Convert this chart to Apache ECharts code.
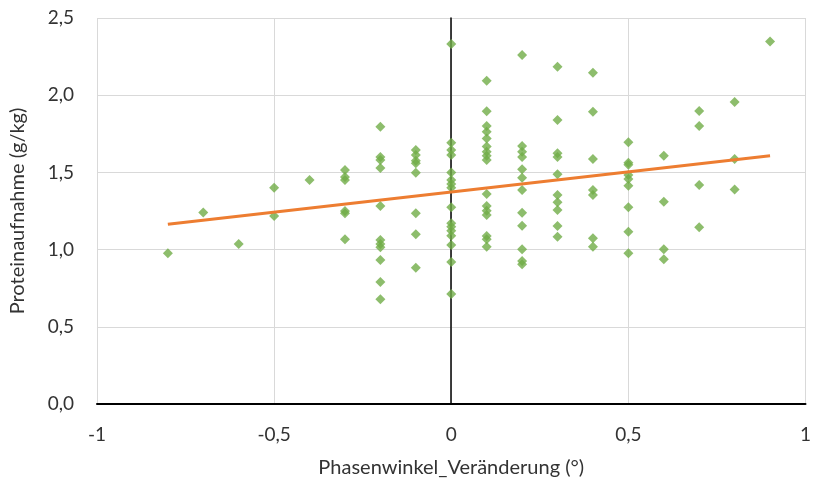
<!DOCTYPE html>
<html>
<head>
<meta charset="utf-8">
<script src="https://cdn.jsdelivr.net/npm/echarts@6/dist/echarts.min.js"></script>
<style>
  html, body { margin: 0; padding: 0; background: #fff; }
  #chart { width: 814px; height: 486px; }
</style>
</head>
<body>
<div id="chart"></div>
<script>
// Werte (x = Phasenwinkel-Veränderung, y = Proteinaufnahme)
const colX = [-0.8, -0.7, -0.6, -0.5, -0.4, -0.3, -0.2, -0.1, 0, 0.1, 0.2, 0.3, 0.4, 0.5, 0.6, 0.7, 0.8, 0.9]
const colY = [
  [0.976],
  [1.24],
  [1.036],
  [1.40, 1.217],
  [1.45],
  [1.515, 1.47, 1.45, 1.25, 1.235, 1.067],
  [1.796, 1.60, 1.58, 1.528, 1.282, 1.062, 1.036, 1.015, 0.933, 0.79, 0.678],
  [1.645, 1.613, 1.576, 1.56, 1.498, 1.235, 1.10, 0.883],
  [2.332, 1.692, 1.645, 1.613, 1.50, 1.45, 1.425, 1.40, 1.274, 1.17, 1.148, 1.122, 1.09, 1.03, 0.92, 0.712],
  [2.094, 1.896, 1.80, 1.764, 1.72, 1.667, 1.634, 1.608, 1.58, 1.36, 1.282, 1.252, 1.224, 1.088, 1.067, 1.019],
  [2.26, 1.671, 1.634, 1.60, 1.52, 1.466, 1.386, 1.239, 1.155, 1.002, 0.926, 0.905],
  [2.185, 1.84, 1.624, 1.60, 1.488, 1.354, 1.306, 1.256, 1.153, 1.084],
  [2.146, 1.893, 1.587, 1.386, 1.354, 1.073, 1.019],
  [1.695, 1.563, 1.55, 1.483, 1.457, 1.414, 1.274, 1.116, 0.976],
  [1.608, 1.31, 1.002, 0.937],
  [1.898, 1.80, 1.418, 1.144],
  [1.956, 1.587, 1.39],
  [2.347]
]
const trendX = [-0.8, 0.9]
const trendY = [1.164, 1.608]

const points = []
colX.forEach((x, i) => {
  colY[i].forEach(y => points.push([x, y]))
})
const trend = trendX.map((x, i) => [x, trendY[i]])

const fmt = v => String(v).replace('.', ',')
const font = 'Lato, "Open Sans", sans-serif'
const textColor = '#333'

const chart = echarts.init(document.getElementById('chart'))
chart.setOption({
  animation: false,
  grid: { left: 96, right: 6, top: 18, bottom: 82 },
  xAxis: {
    type: 'value',
    min: -1,
    max: 1,
    interval: 0.5,
    name: 'Phasenwinkel_Veränderung (°)',
    nameLocation: 'middle',
    nameGap: 54,
    nameTextStyle: { color: textColor, fontSize: 20, fontFamily: font },
    axisLine: { onZero: false, lineStyle: { color: '#000', width: 2 } },
    axisTick: { show: false },
    axisLabel: { color: textColor, fontSize: 19, fontFamily: font, margin: 21, formatter: fmt },
    splitLine: { show: true, lineStyle: { color: '#d9d9d9', width: 1 } }
  },
  yAxis: [
    {
      type: 'value',
      min: 0,
      max: 2.5,
      interval: 0.5,
      name: 'Proteinaufnahme (g/kg)',
      nameLocation: 'middle',
      nameGap: 69,
      nameTextStyle: { color: textColor, fontSize: 20, fontFamily: font },
      axisLine: { show: false, onZero: false },
      axisTick: { show: false },
      axisLabel: { color: textColor, fontSize: 19, fontFamily: font, margin: 23, formatter: v => v.toFixed(1).replace('.', ',') },
      splitLine: { show: true, lineStyle: { color: '#d9d9d9', width: 1 } }
    },
    {
      // Achsenlinie bei x = 0
      type: 'value',
      position: 'left',
      offset: 0,
      min: 0,
      max: 2.5,
      interval: 0.5,
      axisLine: { show: true, onZero: true, lineStyle: { color: '#000', width: 1.5 } },
      axisTick: { show: false },
      axisLabel: { show: false },
      splitLine: { show: false }
    }
  ],
  series: [
    {
      name: 'Proteinaufnahme',
      type: 'scatter',
      data: points,
      symbol: 'diamond',
      symbolSize: 10,
      itemStyle: { color: '#70ad47' }
    },
    {
      name: 'Trend',
      type: 'line',
      data: trend,
      showSymbol: false,
      lineStyle: { color: '#ed7d31', width: 3 }
    }
  ]
})
</script>
</body>
</html>
